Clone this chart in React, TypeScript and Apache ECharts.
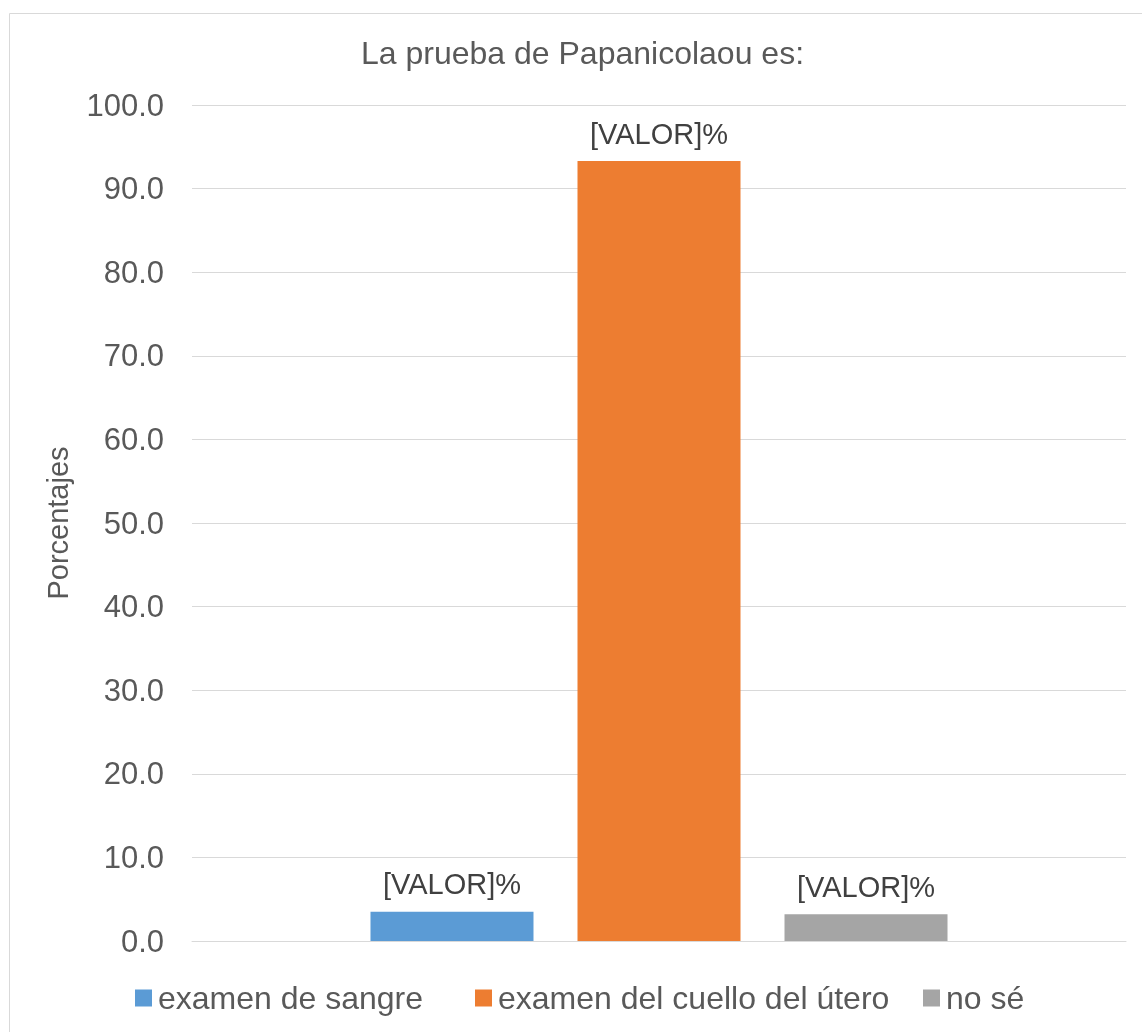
import React, { useEffect, useRef } from "react";
import * as echarts from "echarts";

const title = "La prueba de Papanicolaou es:";
const categories = [""];
const seriesNames = ["examen de sangre", "examen del cuello del útero", "no sé"];
const seriesValues = [3.5, 93.3, 3.2];
const seriesColors = ["#5B9BD5", "#ED7D31", "#A5A5A5"];
const labelText = "[VALOR]%";
const yAxisName = "Porcentajes";
const legendLefts = [135, 475, 923];

const FONT = "'Liberation Sans', Arial, sans-serif";

export default function App() {
  const ref = useRef<HTMLDivElement>(null);
  useEffect(() => {
    if (!ref.current) return;
    const chart = echarts.init(ref.current, undefined, { renderer: "svg" });
    chart.setOption({
      animation: false,
      textStyle: { fontFamily: FONT },
      title: {
        text: title,
        left: 361,
        top: 37,
        padding: 0,
        textStyle: { fontFamily: FONT, fontSize: 32, fontWeight: "normal", color: "#595959" },
      },
      graphic: [
        {
          type: "rect",
          shape: { x: 9.5, y: 13.5, width: 1150, height: 1050 },
          style: { fill: "none", stroke: "#d9d9d9", lineWidth: 1 },
          silent: true,
        },
      ],
      legend: seriesNames.map((name, i) => ({
        left: legendLefts[i],
        top: 982,
        padding: 0,
        itemWidth: 17,
        itemHeight: 17,
        icon: "rect",
        textStyle: { fontFamily: FONT, fontSize: 32, color: "#595959", padding: [0, 0, 0, 1] },
        data: [name],
      })),
      grid: { left: 192, right: 16, top: 105, bottom: 91, containLabel: false },
      xAxis: {
        type: "category",
        data: categories,
        axisLine: { lineStyle: { color: "#d9d9d9", width: 1 } },
        axisTick: { show: false },
        axisLabel: { show: false },
      },
      yAxis: {
        type: "value",
        min: 0,
        max: 100,
        interval: 10,
        name: yAxisName,
        nameLocation: "middle",
        nameRotate: 90,
        nameGap: 120,
        nameTextStyle: { fontFamily: FONT, fontSize: 29, color: "#595959" },
        axisLine: { show: false },
        axisTick: { show: false },
        axisLabel: {
          formatter: (v: number) => v.toFixed(1),
          fontFamily: FONT,
          fontSize: 31,
          color: "#595959",
          margin: 28,
        },
        splitLine: { lineStyle: { color: "#d9d9d9", width: 1 } },
      },
      series: seriesNames.map((name, i) => ({
        name,
        type: "bar",
        data: [seriesValues[i]],
        barWidth: 163,
        barGap: "27%",
        itemStyle: { color: seriesColors[i] },
        label: {
          show: true,
          position: "top",
          distance: 13,
          formatter: () => labelText,
          fontFamily: FONT,
          fontSize: 29,
          color: "#404040",
        },
      })),
    });
    return () => chart.dispose();
  }, []);
  return (
    <div
      ref={ref}
      style={{ position: "fixed", left: 0, top: 0, width: 1142, height: 1032 }}
    />
  );
}
